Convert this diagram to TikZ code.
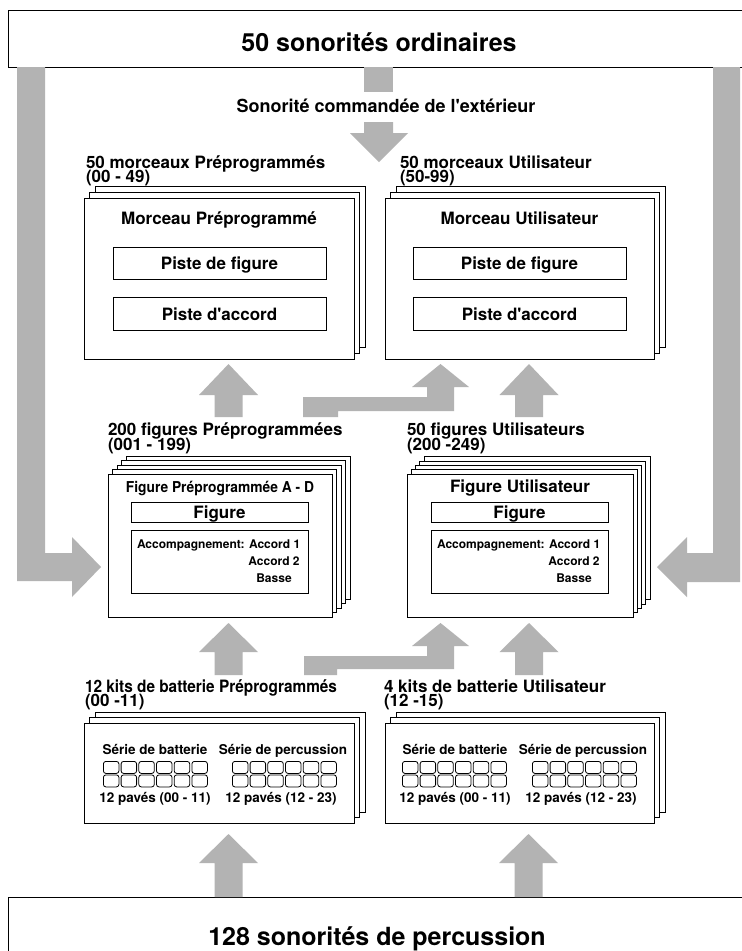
\documentclass[tikz,border=0pt]{standalone}
\usepackage{fontspec}
\usepackage{graphicx}
\setmainfont{TeX Gyre Heros}
\definecolor{arrowgray}{RGB}{179,179,179}
\newcommand\fs[1]{\fontsize{#1}{#1}\selectfont\bfseries}
% stack of sheets: name, x1, y1, x2, y2, number of back sheets, offset
\newcommand\stackof[7]{%
  \foreach \k in {#6,...,1}{%
    \draw[sheet] ({#2+\k*#7},{#3-\k*#7}) rectangle ({#4+\k*#7},{#5-\k*#7});}
  \node[sheet, anchor=north west, minimum width={#4pt-#2pt}, minimum height={#5pt-#3pt}] (#1) at (#2,#3) {};}
% up block arrow: centre x, tip y, head base y, tail y
\newcommand\upblk[4]{%
  \fill[arrowgray] ({#1-14},#4) -- ({#1-14},#3) -- ({#1-29.5},#3) -- (#1,#2)
    -- ({#1+29.5},#3) -- ({#1+14},#3) -- ({#1+14},#4) -- cycle;}
% grid of pads: x left, y top, prefix
\newcommand\padgrid[3]{%
  \foreach \c in {0,...,5}{%
    \foreach \r in {0,1}{%
      \node[pad, anchor=north west] (#3-\r-\c) at ({#1+\c*17.7},{#2+\r*13.5}) {};}}}
\begin{document}
\begin{tikzpicture}[x=1pt,y=-1pt,
  sheet/.style={draw=black, fill=white, line width=0.9pt, inner sep=0pt},
  ibox/.style={draw=black, fill=white, line width=0.9pt, inner sep=0pt},
  bigbox/.style={draw=black, fill=white, line width=1.2pt, inner sep=0pt},
  pad/.style={draw=black, rounded corners=2.5pt, minimum width=15.5pt, minimum height=12pt, inner sep=0pt, line width=0.8pt},
  txt/.style={inner sep=0pt, outer sep=0pt}]
\useasboundingbox (0,0) rectangle (742,951);
\clip (0,0) rectangle (742,951);
\fill[white] (0,0) rectangle (742,951);

% ---------- big boxes ----------
\node[bigbox, anchor=north west, minimum width=742pt, minimum height=57pt] (top) at (8,10) {};
\node[txt, anchor=base, font=\fs{25}] (toptxt) at (379,51) {50 sonorités ordinaires};
\node[bigbox, anchor=north west, minimum width=742pt, minimum height=70pt] (bot) at (8,897) {};
\node[txt, anchor=base, font=\fs{25}] (bottxt) at (377,945) {128 sonorités de percussion};

% ---------- gray arrows ----------
\fill[arrowgray] (17,67) -- (45,67) -- (45,553) -- (72,553) -- (72,537) -- (101,567)
  -- (72,597) -- (72,581) -- (17,581) -- cycle;
\fill[arrowgray] (740,67) -- (713,67) -- (713,553) -- (687,553) -- (687,537) -- (657,567)
  -- (687,597) -- (687,582) -- (740,582) -- cycle;
\fill[arrowgray] (364,67) rectangle (393,92);
\fill[arrowgray] (364,122) -- (393,122) -- (393,133) -- (408,133) -- (379,162)
  -- (350,133) -- (364,133) -- cycle;
\node[txt, anchor=base, font=\fs{18}] (ext) at (386,112) {Sonorité commandée de l\textquotesingle extérieur};

\upblk{228.5}{364}{395}{417}
\upblk{529}{364}{395}{417}
\fill[arrowgray] (303,397) -- (303,417) -- (338,417) -- (338,411) -- (454,411) -- (454,387)
  -- (469,387) -- (440.5,364) -- (412,387) -- (427,387) -- (427,397) -- cycle;
\upblk{228.5}{623}{652}{675}
\upblk{529}{623}{652}{675}
\fill[arrowgray] (304,656) -- (304,675) -- (337,675) -- (337,669) -- (454,669) -- (454,646)
  -- (469,646) -- (440.5,623) -- (412,646) -- (427,646) -- (427,656) -- cycle;
\upblk{228.5}{834}{863}{897}
\upblk{528.5}{834}{863}{897}

% ---------- songs ----------
\node[txt, anchor=base west, font=\fs{17}] (tsl1) at (86,168) {50 morceaux Préprogrammés};
\node[txt, anchor=base west, font=\fs{17}] (tsl2) at (86,182) {(00 - 49)};
\stackof{songL}{84}{198}{354}{359}{2}{5.7}
\node[txt, anchor=base, font=\fs{17}] (msl) at (219,224) {Morceau Préprogrammé};
\node[ibox, anchor=north west, minimum width=213pt, minimum height=32pt] (pfl) at (113,247) {};
\node[txt, anchor=base, font=\fs{17}] at (219.5,269) {Piste de figure};
\node[ibox, anchor=north west, minimum width=213pt, minimum height=33pt] (pal) at (113,297) {};
\node[txt, anchor=base, font=\fs{17}] at (219.5,320) {Piste d\textquotesingle accord};

\node[txt, anchor=base west, font=\fs{17}] (tsr1) at (400,168) {50 morceaux Utilisateur};
\node[txt, anchor=base west, font=\fs{17}] (tsr2) at (400,182) {(50-99)};
\stackof{songR}{385}{198}{654}{359}{2}{5.7}
\node[txt, anchor=base, font=\fs{17}] (msr) at (519.5,224) {Morceau Utilisateur};
\node[ibox, anchor=north west, minimum width=213pt, minimum height=32pt] (pfr) at (413,247) {};
\node[txt, anchor=base, font=\fs{17}] at (519.5,269) {Piste de figure};
\node[ibox, anchor=north west, minimum width=213pt, minimum height=33pt] (par) at (413,297) {};
\node[txt, anchor=base, font=\fs{17}] at (519.5,320) {Piste d\textquotesingle accord};

% ---------- figures ----------
\node[txt, anchor=base west, font=\fs{17}] (tfl1) at (108,435) {200 figures Préprogrammées};
\node[txt, anchor=base west, font=\fs{17}] (tfl2) at (108,450) {(001 - 199)};
\stackof{figL}{108}{474}{332}{617}{4}{4.5}
\node[txt, anchor=base, font=\fs{15}] (ffl) at (220,492) {\scalebox{0.92}[1]{Figure Préprogrammée A - D}};
\node[ibox, anchor=north west, minimum width=177pt, minimum height=20pt] (fbl) at (131,502) {};
\node[txt, anchor=base, font=\fs{17}] at (219.5,518) {Figure};
\node[ibox, anchor=north west, minimum width=177pt, minimum height=63pt] (abl) at (131,530) {};
\node[txt, anchor=base west, font=\fs{12}] (acl1) at (137,548) {Accompagnement: Accord 1};
\node[txt, anchor=base, font=\fs{12}] (acl2) at (274,565) {Accord 2};
\node[txt, anchor=base, font=\fs{12}] (acl3) at (274,582) {Basse};

\node[txt, anchor=base west, font=\fs{17}] (tfr1) at (407,435) {50 figures Utilisateurs};
\node[txt, anchor=base west, font=\fs{17}] (tfr2) at (407,450) {(200 -249)};
\stackof{figR}{407}{474}{633}{617}{4}{4.3}
\node[txt, anchor=base, font=\fs{17}] (ffr) at (520,492) {Figure Utilisateur};
\node[ibox, anchor=north west, minimum width=177pt, minimum height=20pt] (fbr) at (431,502) {};
\node[txt, anchor=base, font=\fs{17}] at (519.5,518) {Figure};
\node[ibox, anchor=north west, minimum width=177pt, minimum height=63pt] (abr) at (431,530) {};
\node[txt, anchor=base west, font=\fs{12}] (acr1) at (437,548) {Accompagnement: Accord 1};
\node[txt, anchor=base, font=\fs{12}] (acr2) at (574,565) {Accord 2};
\node[txt, anchor=base, font=\fs{12}] (acr3) at (574,582) {Basse};

% ---------- drum kits ----------
\node[txt, anchor=base west, font=\fs{17}] (tkl1) at (85,692) {\scalebox{0.904}[1]{12 kits de batterie Préprogrammés}};
\node[txt, anchor=base west, font=\fs{17}] (tkl2) at (85,706) {(00 -11)};
\stackof{kitL}{84}{723}{354}{823}{2}{5.5}
\node[txt, anchor=base, font=\fs{13.5}] at (155,754) {Série de batterie};
\node[txt, anchor=base, font=\fs{13.5}] at (283,754) {Série de percussion};
\padgrid{103}{761}{pl1}
\padgrid{232}{761}{pl2}
\node[txt, anchor=base, font=\fs{13.5}] at (155,802) {12 pavés (00 - 11)};
\node[txt, anchor=base, font=\fs{13.5}] at (281,802) {12 pavés (12 - 23)};

\node[txt, anchor=base west, font=\fs{17}] (tkr1) at (384,692) {4 kits de batterie Utilisateur};
\node[txt, anchor=base west, font=\fs{17}] (tkr2) at (384,706) {(12 -15)};
\stackof{kitR}{385}{723}{654}{823}{2}{5.5}
\node[txt, anchor=base, font=\fs{13.5}] at (455,754) {Série de batterie};
\node[txt, anchor=base, font=\fs{13.5}] at (583,754) {Série de percussion};
\padgrid{402}{761}{pr1}
\padgrid{532}{761}{pr2}
\node[txt, anchor=base, font=\fs{13.5}] at (455,802) {12 pavés (00 - 11)};
\node[txt, anchor=base, font=\fs{13.5}] at (581,802) {12 pavés (12 - 23)};
\end{tikzpicture}
\end{document}
